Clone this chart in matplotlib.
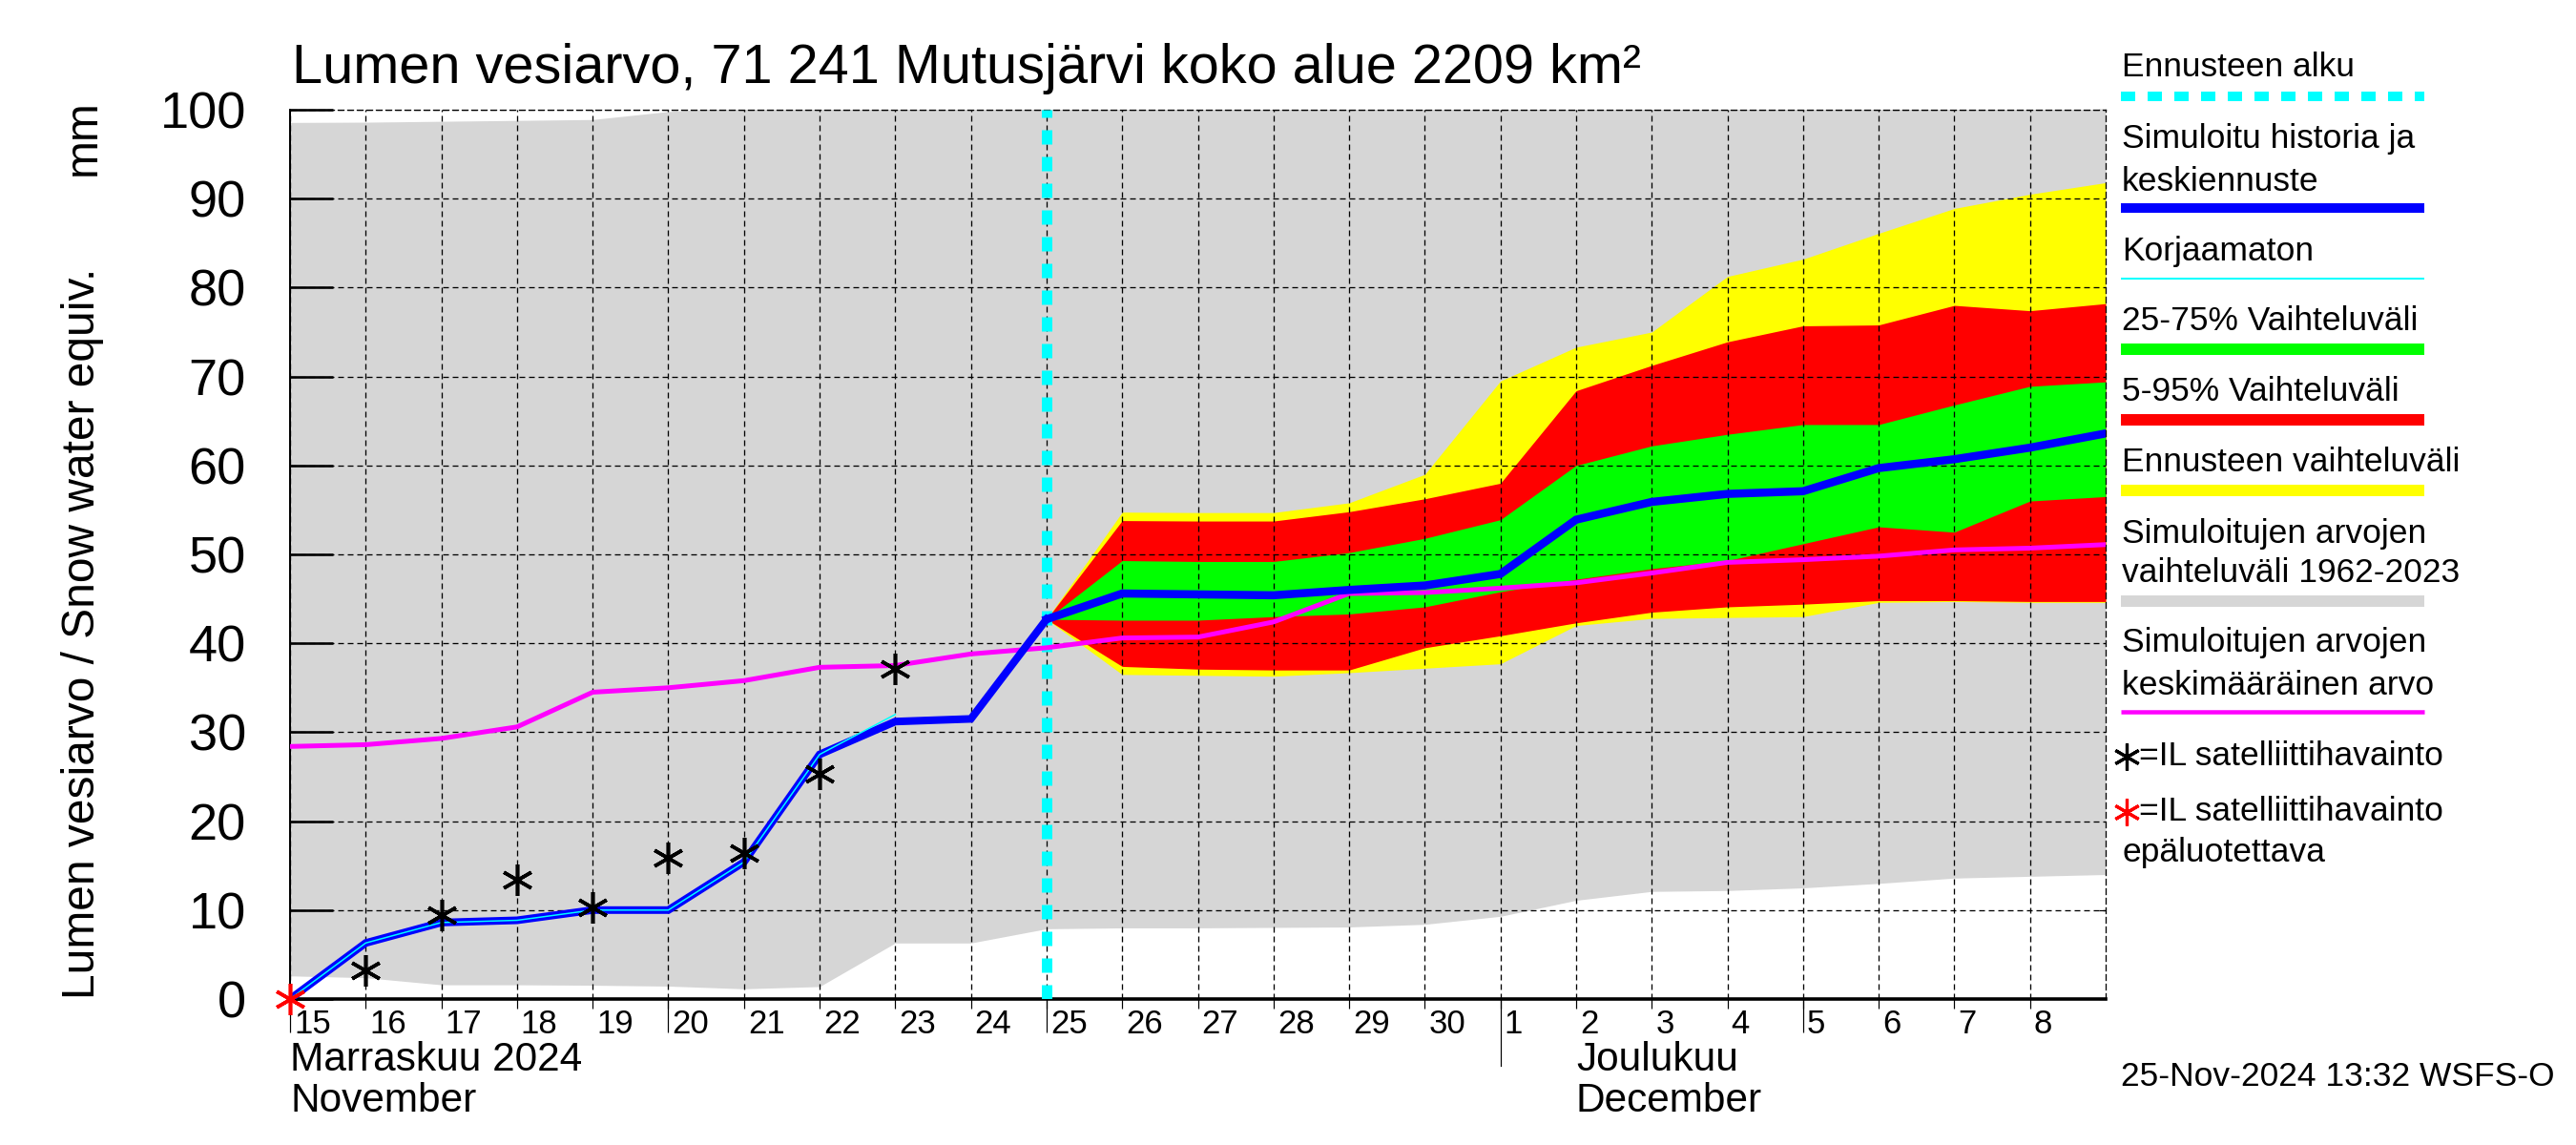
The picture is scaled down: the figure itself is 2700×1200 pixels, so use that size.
import datetime as dt
import matplotlib
matplotlib.use("Agg")
import matplotlib.pyplot as plt
import matplotlib.dates as mdates
from matplotlib.lines import Line2D
from matplotlib.transforms import ScaledTranslation, blended_transform_factory

plt.rcParams['font.family'] = ['Liberation Sans', 'DejaVu Sans']
plt.rcParams['lines.scale_dashes'] = False

# ---------------- data ----------------
start = dt.datetime(2024, 11, 15)
all_dates = [start + dt.timedelta(days=i) for i in range(25)]          # Nov15 .. Dec9
hist_dates = all_dates[:11]                                             # Nov15 .. Nov25
korj_dates = all_dates[:9]                                              # Nov15 .. Nov23
fc_dates = all_dates[10:]                                               # Nov25 .. Dec9
obs_dates = all_dates[1:9]                                              # Nov16 .. Nov23
obs_bad_dates = all_dates[:1]                                           # Nov15
forecast_start = dt.datetime(2024, 11, 25)

sim_hist = [0.0, 6.3, 8.6, 8.85, 10.0, 10.0, 15.4, 27.5, 31.2, 31.5, 42.7]
korjaamaton = [0.0, 6.3, 8.6, 8.85, 10.0, 10.0, 15.4, 27.5, 32.0]

fc_median = [42.7, 45.6, 45.5, 45.4, 46.0, 46.5, 47.8, 53.9, 55.9, 56.8, 57.1, 59.7, 60.7, 62.0, 63.6]
fc_max = [42.7, 54.75, 54.7, 54.7, 55.8, 59.0, 69.5, 73.3, 75.0, 81.25, 83.2, 86.1, 88.9, 90.5, 91.8]
fc_p95 = [42.7, 53.8, 53.75, 53.75, 54.8, 56.25, 58.0, 68.4, 71.25, 73.9, 75.7, 75.8, 78.0, 77.4, 78.2]
fc_p75 = [42.7, 49.3, 49.2, 49.2, 50.2, 51.8, 53.9, 60.0, 62.2, 63.5, 64.6, 64.6, 66.8, 68.9, 69.4]
fc_p25 = [42.7, 42.6, 42.6, 43.0, 43.3, 44.1, 45.8, 47.2, 48.4, 49.3, 51.2, 53.1, 52.5, 56.0, 56.5]
fc_p05 = [42.7, 37.4, 37.1, 37.0, 37.0, 39.5, 40.85, 42.3, 43.5, 44.1, 44.4, 44.8, 44.8, 44.7, 44.7]
fc_min = [42.7, 36.5, 36.4, 36.3, 36.7, 37.2, 37.7, 42.0, 42.8, 42.9, 43.0, 44.6, 44.7, 44.6, 44.6]

clim_mean = [28.4, 28.6, 29.3, 30.6, 34.5, 35.0, 35.8, 37.3, 37.5, 38.8, 39.5, 40.6, 40.7,
             42.4, 45.6, 45.7, 46.2, 46.8, 47.9, 49.1, 49.4, 49.8, 50.5, 50.7, 51.1]
clim_min = [2.6, 2.4, 1.6, 1.6, 1.55, 1.45, 1.15, 1.4, 6.3, 6.3, 7.9, 8.0, 8.0,
            8.05, 8.1, 8.4, 9.3, 11.1, 12.1, 12.2, 12.5, 13.0, 13.6, 13.8, 14.0]
clim_max = [98.57, 98.6, 98.7, 98.8, 98.9, 99.8, 100.3, 101.0, 102.0, 103.0, 104.0, 105.0, 106.0,
            107.0, 108.0, 109.0, 110.0, 111.0, 112.0, 113.0, 114.0, 115.0, 116.0, 117.0, 118.0]

obs_values = [3.2, 9.4, 13.4, 10.3, 15.9, 16.4, 25.3, 37.1]
obs_bad_values = [0.0]

yticks = list(range(0, 101, 10))
long_tick_dates = [dt.datetime(2024, 11, 15), dt.datetime(2024, 11, 20),
                   dt.datetime(2024, 11, 25), dt.datetime(2024, 12, 5)]
month_sep = dt.datetime(2024, 12, 1)

title = "Lumen vesiarvo, 71 241 Mutusjärvi koko alue 2209 km²"
ylabel_main = "Lumen vesiarvo / Snow water equiv."
ylabel_unit = "mm"
month_labels = [(dt.datetime(2024, 11, 15), "Marraskuu 2024", "November"),
                (dt.datetime(2024, 12, 2), "Joulukuu", "December")]
legend_items = ["Ennusteen alku", "Simuloitu historia ja\nkeskiennuste", "Korjaamaton",
                "25-75% Vaihteluväli", "5-95% Vaihteluväli", "Ennusteen vaihteluväli",
                "Simuloitujen arvojen\nvaihteluväli 1962-2023",
                "Simuloitujen arvojen\nkeskimääräinen arvo"]
stamp = "25-Nov-2024 13:32 WSFS-O"

# ---------------- colours ----------------
C_GRAY = "#d6d6d6"
C_YEL = "#ffff00"
C_RED = "#ff0000"
C_GRN = "#00ff00"
C_BLUE = "#0000ff"
C_CYAN = "#00ffff"
C_MAG = "#ff00ff"

PX = 0.72  # points per pixel at dpi 100
W, H = 2700, 1200
GRID_LS = (0, (6 * PX, 4 * PX))


def fx(px):
    return px / W


def fy(py):
    return 1 - py / H


fig = plt.figure(figsize=(27, 12), dpi=100)
ax = fig.add_axes([fx(304), fy(1047), (2207 - 304) / W, (1047 - 115) / H])

# bands
ax.fill_between(all_dates, clim_min, clim_max, color=C_GRAY, lw=0, zorder=1.0)
ax.fill_between(fc_dates, fc_min, fc_max, color=C_YEL, lw=0, zorder=1.1)
ax.fill_between(fc_dates, fc_p05, fc_p95, color=C_RED, lw=0, zorder=1.2)
ax.fill_between(fc_dates, fc_p25, fc_p75, color=C_GRN, lw=0, zorder=1.3)

# lines
ax.axvline(forecast_start, color=C_CYAN, lw=11 * PX, linestyle=(0, (15 * PX, 13 * PX)),
           dash_capstyle='butt', zorder=3)
ax.plot(all_dates, clim_mean, color=C_MAG, lw=5 * PX, zorder=4)
ax.plot(hist_dates, sim_hist, color=C_BLUE, lw=8 * PX, zorder=5, solid_joinstyle='miter')
ax.plot(fc_dates, fc_median, color=C_BLUE, lw=8.5 * PX, zorder=5, solid_joinstyle='miter')
ax.plot(korj_dates, korjaamaton, color=C_CYAN, lw=1.5 * PX, zorder=6)

star = (6, 2, 0)
MS = 33 * PX
MEW = 3.6 * PX
ax.plot(obs_dates, obs_values, linestyle='none', marker=star, markersize=MS,
        markeredgewidth=MEW, color='black', zorder=7)
ax.plot(obs_bad_dates, obs_bad_values, linestyle='none', marker=star, markersize=MS,
        markeredgewidth=MEW, color=C_RED, zorder=7, clip_on=False)

# axes limits / grid
ax.set_xlim(all_dates[0], all_dates[-1])
ax.set_ylim(0, 100)
ax.grid(True, color='black', linestyle=GRID_LS, linewidth=1.3 * PX)

for s in ['top', 'right']:
    ax.spines[s].set_linestyle(GRID_LS)
    ax.spines[s].set_linewidth(1.3 * PX)
ax.spines['left'].set_linewidth(2 * PX)
ax.spines['bottom'].set_linewidth(3.6 * PX)

# y ticks
ax.set_yticks(yticks)
ax.set_yticklabels([str(v) for v in yticks])
ax.tick_params(axis='y', direction='in', length=45 * PX, width=2.6 * PX,
               pad=46 * PX, labelsize=39)

# x ticks
day_ticks = all_dates[:-1]
ax.set_xticks(day_ticks)
ax.set_xticklabels([str(d.day) for d in day_ticks])
ax.set_xticks(long_tick_dates, minor=True)
ax.xaxis.remove_overlapping_locs = False
ax.tick_params(axis='x', which='major', direction='out', length=10 * PX, width=1.2 * PX,
               pad=0, labelsize=25)
ax.tick_params(axis='x', which='minor', direction='out', length=35 * PX, width=1.2 * PX,
               labelbottom=False)
offset = ScaledTranslation(4 / 100, 0, fig.dpi_scale_trans)
for t in ax.xaxis.get_major_ticks():
    t.label1.set_horizontalalignment('left')
    t.label1.set_transform(t.label1.get_transform() + offset)

# right side small inward ticks
sec = ax.secondary_yaxis('right')
sec.set_yticks(yticks)
sec.tick_params(direction='in', length=7 * PX, width=1.2 * PX, labelright=False)
sec.spines['right'].set_visible(False)

# month separator and labels
ax.axvline(month_sep, ymin=-70 / 932, ymax=0, color='black', lw=1.2 * PX, clip_on=False)
btrans = blended_transform_factory(ax.transData, ax.transAxes)
for d, l1, l2 in month_labels:
    x = mdates.date2num(d)
    ax.text(x, (1047 - 1122) / 932, l1, transform=btrans, fontsize=30.5, va='baseline', ha='left')
    ax.text(x, (1047 - 1165) / 932, l2, transform=btrans, fontsize=30.5, va='baseline', ha='left')

# title and y label
fig.text(fx(306), fy(87), title, fontsize=41.5, va='baseline', ha='left')
fig.text(fx(87), fy(1047), ylabel_main, rotation=90, fontsize=34.5, ha='center', va='bottom')
fig.text(fx(87), fy(104), ylabel_unit, rotation=90, fontsize=34.5, ha='center', va='top')

# ---------------- legend (manual) ----------------
LFS = 25.5
LX0, LX1 = 2223, 2541
tf = fig.transFigure


def ltext(py, s, px=2224, color='black'):
    fig.text(fx(px), fy(py), s, fontsize=LFS, va='center', ha='left', color=color)


def lline(py, color, lw_px, ls='-'):
    fig.add_artist(Line2D([fx(LX0), fx(LX1)], [fy(py), fy(py)], transform=tf, color=color,
                          lw=lw_px * PX, linestyle=ls, solid_capstyle='butt',
                          dash_capstyle='butt'))


ltext(71, legend_items[0])
lline(101, C_CYAN, 10, (0, (15 * PX, 13 * PX)))
l1, l2 = legend_items[1].split("\n")
ltext(146, l1)
ltext(190, l2)
lline(218, C_BLUE, 10)
ltext(264, legend_items[2])
lline(292, C_CYAN, 2)
ltext(337, legend_items[3])
lline(366, C_GRN, 12)
ltext(411, legend_items[4])
lline(440, C_RED, 12)
ltext(485, legend_items[5])
lline(514, C_YEL, 12)
l1, l2 = legend_items[6].split("\n")
ltext(559, l1)
ltext(600, l2)
lline(630, C_GRAY, 12)
l1, l2 = legend_items[7].split("\n")
ltext(674, l1)
ltext(718, l2)
lline(746, C_MAG, 4.5)

fig.add_artist(Line2D([fx(2229)], [fy(793)], transform=tf, marker=star, markersize=28 * PX,
                      markeredgewidth=3.2 * PX, color='black', linestyle='none'))
ltext(793, "=IL satelliittihavainto", px=2242)
fig.add_artist(Line2D([fx(2229)], [fy(851)], transform=tf, marker=star, markersize=28 * PX,
                      markeredgewidth=3.2 * PX, color=C_RED, linestyle='none'))
ltext(851, "=IL satelliittihavainto", px=2242)
ltext(894, "epäluotettava")

ltext(1128, stamp, px=2223)

fig.savefig("out.png", dpi=100)
